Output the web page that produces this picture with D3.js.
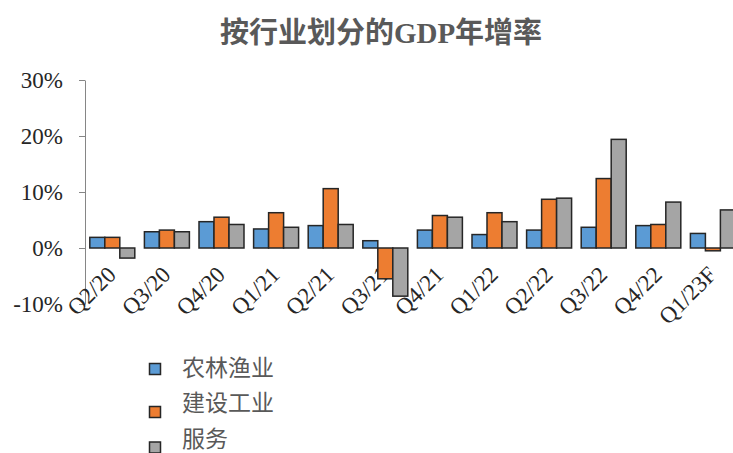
<!DOCTYPE html>
<html>
<head>
<meta charset="utf-8">
<script src="https://cdn.jsdelivr.net/npm/d3@7"></script>
<style>
	body { margin: 0; background: #fff; }
	svg { display: block; }
</style>
</head>
<body>
<svg id="chart"></svg>
<script>
var width = 733,
	height = 453;

// data (percent)
var quarters = ["Q2/20", "Q3/20", "Q4/20", "Q1/21", "Q2/21", "Q3/21", "Q4/21", "Q1/22", "Q2/22", "Q3/22", "Q4/22", "Q1/23F"];
var seriesNames = ["农林渔业", "建设工业", "服务"];
var agri = [1.9, 2.9, 4.7, 3.4, 4.0, 1.3, 3.2, 2.4, 3.2, 3.7, 4.0, 2.6];
var industry = [1.9, 3.2, 5.5, 6.3, 10.6, -5.5, 5.8, 6.3, 8.7, 12.4, 4.2, -0.5];
var services = [-1.8, 2.9, 4.2, 3.7, 4.2, -8.6, 5.5, 4.7, 8.9, 19.4, 8.2, 6.8];
var yTicks = [-10, 0, 10, 20, 30];
var colors = ["#5b9bd5", "#ed7d31", "#a5a5a5"];
var title = "按行业划分的GDP年增率";

var series = [agri, industry, services];

var svg = d3.select("#chart")
	.attr("width", width)
	.attr("height", height);

var y = d3.scaleLinear()
	.domain([-10, 30])
	.range([304, 80]);

var x = d3.scaleBand()
	.domain(quarters)
	.range([85, 85 + 12 * 54.6])
	.paddingInner(0.176)
	.paddingOuter(0.088);

var xInner = d3.scaleBand()
	.domain([0, 1, 2])
	.range([0, x.bandwidth()]);

// title
svg.append("text")
	.attr("x", 381)
	.attr("y", 43)
	.attr("text-anchor", "middle")
	.style("font-family", "'Liberation Serif', 'Noto Sans CJK SC', serif")
	.style("font-weight", "bold")
	.style("font-size", "29px")
	.style("fill", "#595959")
	.text(title);

// y axis
var yAxis = svg.append("g")
	.attr("transform", "translate(85,0)")
	.call(d3.axisLeft(y)
		.tickValues(yTicks)
		.tickSize(6)
		.tickSizeOuter(0)
		.tickPadding(16)
		.tickFormat(function(d) { return d + "%"; }));

yAxis.select(".domain").attr("stroke", "#868686");
yAxis.selectAll(".tick line").attr("stroke", "#868686");
yAxis.selectAll(".tick text")
	.style("font-family", "'Liberation Serif', serif")
	.style("font-size", "23px")
	.style("fill", "#262626");

// x labels (drawn before bars, bars cover them)
svg.append("g").selectAll("text")
	.data(quarters)
.enter().append("text")
	.attr("transform", function(d) {
		return "translate(" + (x(d) + x.bandwidth() / 2 + 5) + ",276) rotate(-45)";
	})
	.attr("text-anchor", "end")
	.style("font-family", "'Liberation Serif', serif")
	.style("font-size", "23px")
	.style("fill", "#262626")
	.text(function(d) { return d; });

// bars
var group = svg.append("g").selectAll("g")
	.data(quarters)
.enter().append("g")
	.attr("transform", function(d) { return "translate(" + x(d) + ",0)"; });

group.selectAll("rect")
	.data(function(d, i) { return series.map(function(s, k) { return { k: k, v: s[i] }; }); })
.enter().append("rect")
	.attr("x", function(d) { return xInner(d.k); })
	.attr("width", xInner.bandwidth())
	.attr("y", function(d) { return y(Math.max(0, d.v)); })
	.attr("height", function(d) { return Math.abs(y(d.v) - y(0)); })
	.attr("fill", function(d) { return colors[d.k]; })
	.attr("stroke", "#262626")
	.attr("stroke-width", 1.5);

// legend
var legendSquareY = [363.5, 406.5, 442];
var legendTextY = [376, 411, 447];

var legend = svg.append("g").selectAll("g")
	.data(seriesNames)
.enter().append("g");

legend.append("rect")
	.attr("x", 149.5)
	.attr("y", function(d, i) { return legendSquareY[i]; })
	.attr("width", 11)
	.attr("height", 11)
	.attr("fill", function(d, i) { return colors[i]; })
	.attr("stroke", "#262626")
	.attr("stroke-width", 1.5);

legend.append("text")
	.attr("x", 182)
	.attr("y", function(d, i) { return legendTextY[i]; })
	.style("font-family", "'Noto Sans CJK SC', sans-serif")
	.style("font-size", "23px")
	.style("fill", "#595959")
	.text(function(d) { return d; });
</script>
</body>
</html>
